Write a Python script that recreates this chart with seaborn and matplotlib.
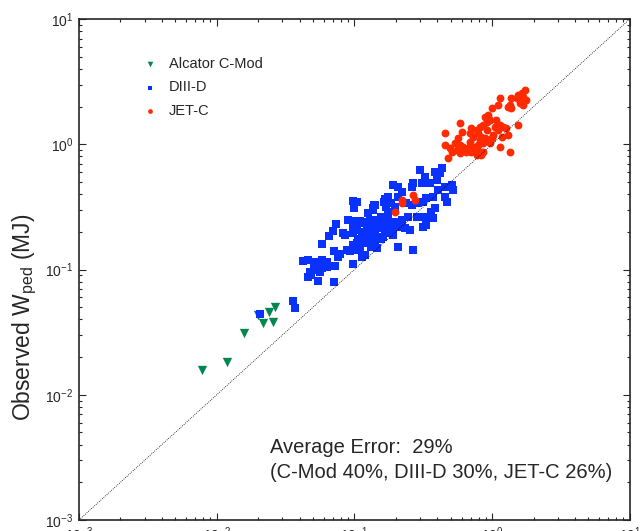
import numpy as np
import pandas as pd
import matplotlib
matplotlib.use('Agg')
import matplotlib.pyplot as plt
import seaborn as sns
from matplotlib.ticker import LogLocator, NullFormatter

cmod_x = [0.00782, 0.0119, 0.0158, 0.0217, 0.0256, 0.0239, 0.0265, 0.0199]
cmod_y = [0.0158, 0.0183, 0.0311, 0.0374, 0.0381, 0.0458, 0.0502, 0.0433]

d3d_x = [0.098, 0.0997, 0.139, 0.137, 0.166, 0.164, 0.171, 0.176, 0.0902, 0.0730,
         0.0695, 0.0656, 0.0829, 0.0853, 0.0578, 0.0715, 0.0785, 0.0762, 0.0878, 0.0927,
         0.101, 0.110, 0.119, 0.101, 0.110, 0.113, 0.119, 0.130, 0.141, 0.149,
         0.157, 0.166, 0.133, 0.123, 0.141, 0.157, 0.166, 0.130, 0.119, 0.098,
         0.098, 0.113, 0.126, 0.137, 0.149, 0.162, 0.141, 0.130, 0.110, 0.113,
         0.104, 0.098, 0.107, 0.133, 0.145, 0.0425, 0.0462, 0.0516, 0.0546, 0.0583,
         0.0638, 0.0505, 0.0478, 0.0533, 0.0578, 0.0562, 0.0628, 0.0721, 0.0462, 0.0488,
         0.0540, 0.0715, 0.098, 0.0360, 0.0370,
         0.299, 0.325, 0.384, 0.418, 0.430, 0.395, 0.353, 0.308, 0.267, 0.260,
         0.191, 0.208, 0.220, 0.208, 0.176, 0.166, 0.186, 0.197, 0.239, 0.260,
         0.290, 0.316, 0.334, 0.373, 0.406, 0.454, 0.508, 0.521, 0.454, 0.467,
         0.384, 0.363, 0.325, 0.283, 0.246, 0.220, 0.197, 0.176, 0.157, 0.141,
         0.137, 0.126, 0.119, 0.107, 0.104, 0.113, 0.133, 0.149, 0.166, 0.186,
         0.208, 0.233, 0.253, 0.316, 0.334, 0.373, 0.141, 0.157, 0.176, 0.191,
         0.208, 0.267, 0.126, 0.110, 0.113, 0.107, 0.104, 0.0208]
d3d_y = [0.354, 0.311, 0.327, 0.308, 0.366, 0.348, 0.317, 0.289, 0.248, 0.230,
         0.203, 0.186, 0.195, 0.188, 0.159, 0.141, 0.132, 0.127, 0.143, 0.141,
         0.143, 0.157, 0.131, 0.244, 0.244, 0.234, 0.241, 0.248, 0.248, 0.241,
         0.234, 0.241, 0.227, 0.220, 0.213, 0.213, 0.200, 0.200, 0.200, 0.220,
         0.195, 0.188, 0.183, 0.177, 0.177, 0.183, 0.167, 0.162, 0.177, 0.162,
         0.162, 0.157, 0.148, 0.152, 0.148, 0.1175, 0.119, 0.115, 0.1086, 0.119,
         0.115, 0.105, 0.096, 0.0991, 0.102, 0.096, 0.105, 0.107, 0.0875, 0.0904,
         0.0809, 0.0791, 0.1106, 0.0560, 0.0495,
         0.623, 0.551, 0.604, 0.586, 0.643, 0.519, 0.488, 0.488, 0.488, 0.458,
         0.473, 0.458, 0.418, 0.381, 0.381, 0.359, 0.338, 0.317, 0.338, 0.327,
         0.338, 0.348, 0.370, 0.381, 0.431, 0.458, 0.473, 0.431, 0.381, 0.348,
         0.308, 0.289, 0.264, 0.264, 0.264, 0.248, 0.241, 0.248, 0.264, 0.327,
         0.298, 0.281, 0.241, 0.241, 0.207, 0.195, 0.220, 0.234, 0.207, 0.213,
         0.220, 0.213, 0.207, 0.220, 0.227, 0.256, 0.188, 0.177, 0.195, 0.188,
         0.152, 0.143, 0.162, 0.143, 0.127, 0.172, 0.348, 0.0441]

jet_x = [0.220, 0.220, 0.267, 0.275, 0.197,
         1.729, 1.636, 1.546, 1.680, 1.778, 1.590, 1.680, 1.505, 1.384, 1.346,
         1.308, 1.384, 1.138, 1.106, 0.991, 0.936, 0.886, 0.912, 0.963, 1.077,
         1.138, 1.106, 1.203, 1.273, 1.308, 1.171, 1.018, 0.991, 0.861, 0.815,
         0.771, 0.709, 0.689, 0.729, 0.792, 0.838, 0.886, 0.936, 0.861, 0.792,
         0.729, 0.670, 0.616, 0.583, 0.567, 0.600, 0.583, 0.552, 0.508, 0.454,
         0.454, 0.494, 0.537, 0.583, 0.652, 0.709, 0.771, 0.838, 0.689, 0.963,
         0.861, 1.138, 1.346, 1.546, 0.480, 0.815, 0.912, 1.047, 0.616, 0.771,
         0.838]
jet_y = [0.359, 0.338, 0.393, 0.359, 0.289,
         2.71, 2.55, 2.47, 2.40, 2.26, 2.12, 2.06, 2.33, 2.33, 2.06,
         1.995, 1.94, 2.33, 2.06, 1.94, 1.712, 1.66, 1.514, 1.563, 1.563,
         1.425, 1.30, 1.38, 1.34, 1.186, 1.148, 1.186, 1.116, 1.425, 1.38,
         1.30, 1.34, 1.222, 1.148, 1.222, 1.148, 1.116, 1.081, 1.018, 0.986,
         0.956, 0.929, 0.956, 0.986, 1.116, 1.26, 1.47, 0.900, 0.872, 0.986,
         1.222, 0.929, 1.018, 0.847, 0.872, 0.872, 0.900, 0.872, 1.048, 1.018,
         0.872, 0.956, 0.872, 1.425, 0.773, 1.081, 1.30, 1.38, 0.900, 0.821,
         0.821]

unity = [1e-3, 10]

sns.set_style('ticks')
plt.rcParams['font.family'] = ['Liberation Sans', 'DejaVu Sans']
plt.rcParams['mathtext.fontset'] = 'custom'
plt.rcParams['mathtext.rm'] = 'Liberation Sans'
plt.rcParams['mathtext.it'] = 'Liberation Sans:italic'
plt.rcParams['mathtext.bf'] = 'Liberation Sans:bold'

fig, ax = plt.subplots(figsize=(6.4, 5.31), dpi=100)
fig.subplots_adjust(left=0.1234, right=0.984, bottom=0.0207, top=0.964)

ax.plot(unity, unity, color='black', lw=0.6, ls=(0, (1, 1.5)))

sns.scatterplot(x=cmod_x, y=cmod_y, marker='v', s=45, color='#00874f',
                linewidth=0, label='Alcator C-Mod', ax=ax)
sns.scatterplot(x=d3d_x, y=d3d_y, marker='s', s=34, color='#0a32ff',
                linewidth=0, label='DIII-D', ax=ax)
sns.scatterplot(x=jet_x, y=jet_y, marker='o', s=32, color='#ff2a00',
                linewidth=0, label='JET-C', ax=ax)

ax.set_xscale('log')
ax.set_yscale('log')
ax.set_xlim(1e-3, 10)
ax.set_ylim(1e-3, 10)

for axis in (ax.xaxis, ax.yaxis):
    axis.set_major_locator(LogLocator(base=10, numticks=10))
    axis.set_minor_locator(LogLocator(base=10, subs=np.arange(2, 10), numticks=100))
    axis.set_minor_formatter(NullFormatter())

ax.tick_params(which='both', direction='in', top=True, right=True, width=0.8)
ax.tick_params(which='major', length=5, labelsize=10, pad=4)
ax.tick_params(which='minor', length=2.5)
for sp in ax.spines.values():
    sp.set_linewidth(1.2)

ax.set_ylabel(r'Observed W$_{\mathrm{ped}}$ (MJ)', fontsize=16.5)
ax.yaxis.set_label_coords(-0.072, 0.405)

ax.legend(loc='upper left', bbox_to_anchor=(0.105, 0.936), frameon=False,
          fontsize=10.5, handlelength=1.0, handletextpad=0.8, labelspacing=0.65,
          borderaxespad=0, markerscale=0.6)

ax.text(0.347, 0.134, 'Average Error:  29%', transform=ax.transAxes, fontsize=14.5,
        va='baseline')
ax.text(0.347, 0.084, '(C-Mod 40%, DIII-D 30%, JET-C 26%)', transform=ax.transAxes,
        fontsize=14.5, va='baseline')

plt.savefig('out.png', dpi=100)
